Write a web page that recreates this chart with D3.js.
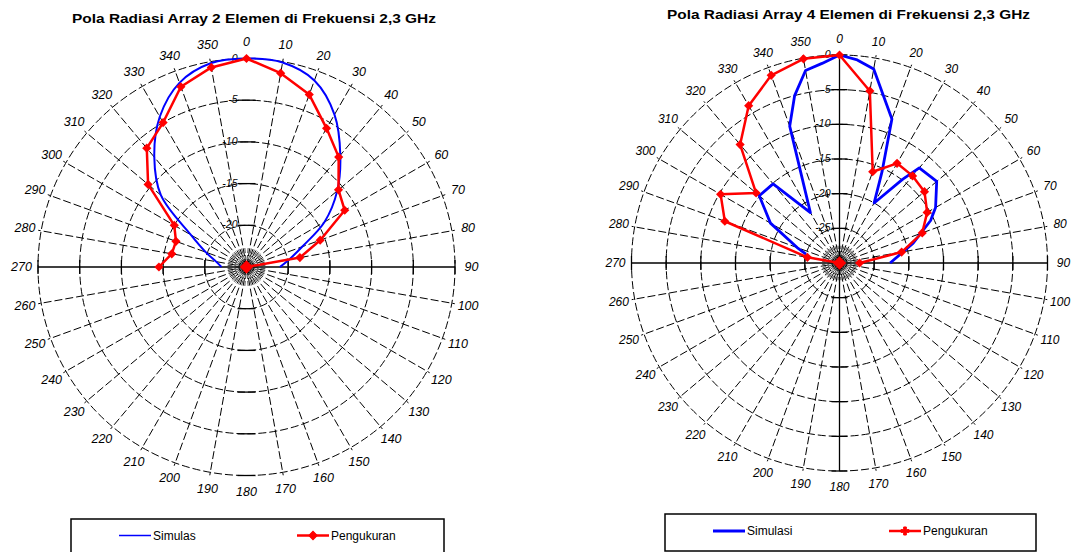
<!DOCTYPE html>
<html><head><meta charset="utf-8">
<script src="https://cdn.jsdelivr.net/npm/d3@7/dist/d3.min.js"></script>
<style>
body{margin:0;background:#fff}
svg{display:block}
text{font-family:"Liberation Sans",Arial,sans-serif;fill:#000}
</style>
</head><body>
<svg width="1076" height="552"></svg>
<script>
// ---------- data ----------
const angleTicks = [0,10,20,30,40,50,60,70,80,90,100,110,120,130,140,150,160,170,180,190,200,210,220,230,240,250,260,270,280,290,300,310,320,330,340,350];
const leftRingTicks = [0,-5,-10,-15,-20];
const rightRingTicks = [0,-5,-10,-15,-20,-25];

const titles = ["Pola Radiasi Array 2 Elemen di Frekuensi 2,3 GHz", "Pola Radiasi Array 4 Elemen di Frekuensi 2,3 GHz"];
const leftLegendLabels = ["Simulas", "Pengukuran"];
const rightLegendLabels = ["Simulasi", "Pengukuran"];

// left chart (2 elements), dB, range -25..0
const leftSimAngles  = [270,280,290,300,310,320,330,340,350,0,10,20,30,40,50,60,70,80,90];
const leftSimValues  = [-22.0,-21.3,-19.8,-17.3,-11.6,-7.8,-4.2,-1.5,-0.2,0,-0.1,-1.2,-3.9,-7.5,-10.8,-14.2,-17.9,-19.8,-21.0];
const leftMeasAngles = [270,280,290,300,310,320,330,340,350,0,10,20,30,40,50,60,70,80,90];
const leftMeasValues = [-14.5,-15.9,-16.0,-15.0,-9.6,-6.4,-5.0,-2.0,-0.7,0,-1.4,-3.0,-5.8,-7.8,-10.6,-11.4,-15.6,-18.5,-25];

// right chart (4 elements), dB, range -30..0
const rightSimAngles  = [285,290,300,310,320,330,340,345,350,355,0,5,10,20,25,30,37,40,50,60,65,75,90];
const rightSimValues  = [-25.0,-23.5,-18.5,-14.9,-15.1,-21.6,-9.0,-5.0,-1.8,-1.1,0,-0.6,-1.6,-7.9,-15.5,-20.0,-14.9,-12.1,-11.7,-14.0,-15.5,-19.0,-22.7];
const rightMeasAngles = [270,280,290,300,310,320,330,340,350,0,10,20,30,40,50,60,70,80,90];
const rightMeasValues = [-30,-25.3,-12.4,-10.2,-14.3,-7.7,-3.8,-1.2,-0.1,0,-4.8,-16.0,-13.4,-13.6,-14.0,-15.4,-17.3,-20.9,-27.1];

// ---------- drawing ----------
const svg = d3.select("svg");
const angle = d3.scaleLinear().domain([0,360]).range([0, 2*Math.PI]);
const BLUE = "#0000ff", RED = "#ff0000";

function polar(cfg){
  const r = d3.scaleLinear().domain([cfg.minDb, 0]).range([0, cfg.R]).clamp(true);
  const g = svg.append("g").attr("transform", `translate(${cfg.cx},${cfg.cy})`);
  const px = (a, rad) => rad*Math.sin(angle(a));
  const py = (a, rad) => -rad*Math.cos(angle(a));

  // fine spokes near centre
  const fine = angleTicks.map(a => a + 5);
  const innerR = r(cfg.rings[cfg.rings.length-1]) * 0.5;
  g.selectAll("line.fine").data(fine).join("line").attr("class","fine")
    .attr("x1", 0).attr("y1", 0)
    .attr("x2", d => px(d, innerR)).attr("y2", d => py(d, innerR))
    .attr("stroke", "#000").attr("stroke-width", 0.7).attr("stroke-dasharray","5,2");

  // rings
  g.selectAll("circle.ring").data(cfg.rings).join("circle").attr("class","ring")
    .attr("r", d => r(d)).attr("fill","none")
    .attr("stroke","#000").attr("stroke-width",1).attr("stroke-dasharray","8,3");

  // spokes
  g.selectAll("line.spoke").data(angleTicks.filter(a => a % 90 !== 0)).join("line").attr("class","spoke")
    .attr("x1", 0).attr("y1", 0)
    .attr("x2", d => px(d, cfg.R + 3)).attr("y2", d => py(d, cfg.R + 3))
    .attr("stroke","#000").attr("stroke-width",1).attr("stroke-dasharray","8,3");

  // axes
  g.append("line").attr("x1", -cfg.R).attr("x2", cfg.R).attr("y1",0).attr("y2",0)
    .attr("stroke","#000").attr("stroke-width",1.3);
  if (cfg.vAxis) {
    g.append("line").attr("x1", 0).attr("x2", 0).attr("y1",-cfg.R).attr("y2",cfg.R)
      .attr("stroke","#000").attr("stroke-width",1.3);
  }
  // ticks on axes
  const tickRings = cfg.rings;
  g.selectAll("line.ht").data(tickRings.flatMap(v => [r(v), -r(v)])).join("line").attr("class","ht")
    .attr("x1", d => d).attr("x2", d => d).attr("y1", -7).attr("y2", 7)
    .attr("stroke","#000").attr("stroke-width",1.3);
  g.selectAll("line.vt").data(tickRings.flatMap(v => [r(v), -r(v)])).join("line").attr("class","vt")
    .attr("y1", d => d).attr("y2", d => d).attr("x1", -cfg.vTick).attr("x2", cfg.vTick)
    .attr("stroke","#000").attr("stroke-width",1.3);

  // ring labels
  g.selectAll("text.rl").data(cfg.rings).join("text").attr("class","rl")
    .attr("x", -9).attr("y", d => -r(d) - 1)
    .attr("text-anchor","end").attr("dominant-baseline","central")
    .attr("font-size", 10.5).attr("font-style","italic")
    .text(d => d);

  // angle labels
  g.selectAll("text.al").data(angleTicks).join("text").attr("class","al")
    .attr("x", d => px(d, cfg.labelR)).attr("y", d => py(d, cfg.labelR))
    .attr("text-anchor","middle").attr("dominant-baseline","central")
    .attr("font-size", cfg.labelSize).attr("font-style","italic")
    .text(d => d);

  // simulation line
  const sim = cfg.simA.map((a,i) => [a, cfg.simV[i]]);
  const simLine = d3.lineRadial().angle(d => angle(d[0])).radius(d => r(d[1])).curve(cfg.simCurve);
  g.append("path").attr("d", simLine(sim)).attr("fill","none")
    .attr("stroke", BLUE).attr("stroke-width", cfg.simWidth).attr("stroke-linejoin","round");

  // measurement line + markers
  const meas = cfg.measA.map((a,i) => [a, cfg.measV[i]]);
  const measLine = d3.lineRadial().angle(d => angle(d[0])).radius(d => r(d[1]));
  g.append("path").attr("d", measLine(meas)).attr("fill","none")
    .attr("stroke", RED).attr("stroke-width", 2.5).attr("stroke-linejoin","round");
  g.selectAll("path.mk").data(meas).join("path").attr("class","mk")
    .attr("d", d => d3.symbol(d3.symbolSquare, d[1] <= cfg.minDb ? 90 : 42)())
    .attr("transform", d => `translate(${px(d[0], r(d[1]))},${py(d[0], r(d[1]))}) rotate(45)`)
    .attr("fill", RED);
}

polar({cx:246.5, cy:267, R:208.5, minDb:-25, rings:leftRingTicks, labelR:225, labelSize:12.5,
       vAxis:false, vTick:9,
       simA:leftSimAngles, simV:leftSimValues, simWidth:2, simCurve:d3.curveCatmullRom.alpha(0.5),
       measA:leftMeasAngles, measV:leftMeasValues});
polar({cx:839.5, cy:263, R:208, minDb:-30, rings:rightRingTicks, labelR:224, labelSize:12,
       vAxis:true, vTick:8,
       simA:rightSimAngles, simV:rightSimValues, simWidth:2.8, simCurve:d3.curveLinear,
       measA:rightMeasAngles, measV:rightMeasValues});

// titles
svg.append("text").attr("x", 254).attr("y", 23).attr("text-anchor","middle")
  .attr("font-size", 13.5).attr("font-weight","bold")
  .attr("textLength", 364).attr("lengthAdjust","spacingAndGlyphs").text(titles[0]);
svg.append("text").attr("x", 848.5).attr("y", 18.5).attr("text-anchor","middle")
  .attr("font-size", 13.5).attr("font-weight","bold")
  .attr("textLength", 363).attr("lengthAdjust","spacingAndGlyphs").text(titles[1]);

// legends
function legend(x, y, w, h, ly, blueX, redX, labels, blueW, redMarker){
  const g = svg.append("g");
  g.append("rect").attr("x", x).attr("y", y).attr("width", w).attr("height", h)
    .attr("fill","#fff").attr("stroke","#000").attr("stroke-width",1.5);
  g.append("line").attr("x1", blueX).attr("x2", blueX+32).attr("y1", ly).attr("y2", ly)
    .attr("stroke", BLUE).attr("stroke-width", blueW);
  g.append("text").attr("x", blueX+34).attr("y", ly).attr("dominant-baseline","central")
    .attr("font-size", 12).text(labels[0]);
  g.append("line").attr("x1", redX).attr("x2", redX+32).attr("y1", ly).attr("y2", ly)
    .attr("stroke", RED).attr("stroke-width", 2.5);
  g.append("path").attr("d", d3.symbol(redMarker, 36)())
    .attr("transform", `translate(${redX+16},${ly})` + (redMarker === d3.symbolSquare ? " rotate(45)" : ""))
    .attr("fill", RED).attr("stroke", RED).attr("stroke-width", 1);
  g.append("text").attr("x", redX+34).attr("y", ly).attr("dominant-baseline","central")
    .attr("font-size", 12).text(labels[1]);
}
legend(71, 519, 373, 45, 535.5, 119, 297, leftLegendLabels, 1.5, d3.symbolSquare);
legend(665, 514, 371, 37, 531, 713, 889, rightLegendLabels, 3, d3.symbolCross);
</script>
</body></html>
